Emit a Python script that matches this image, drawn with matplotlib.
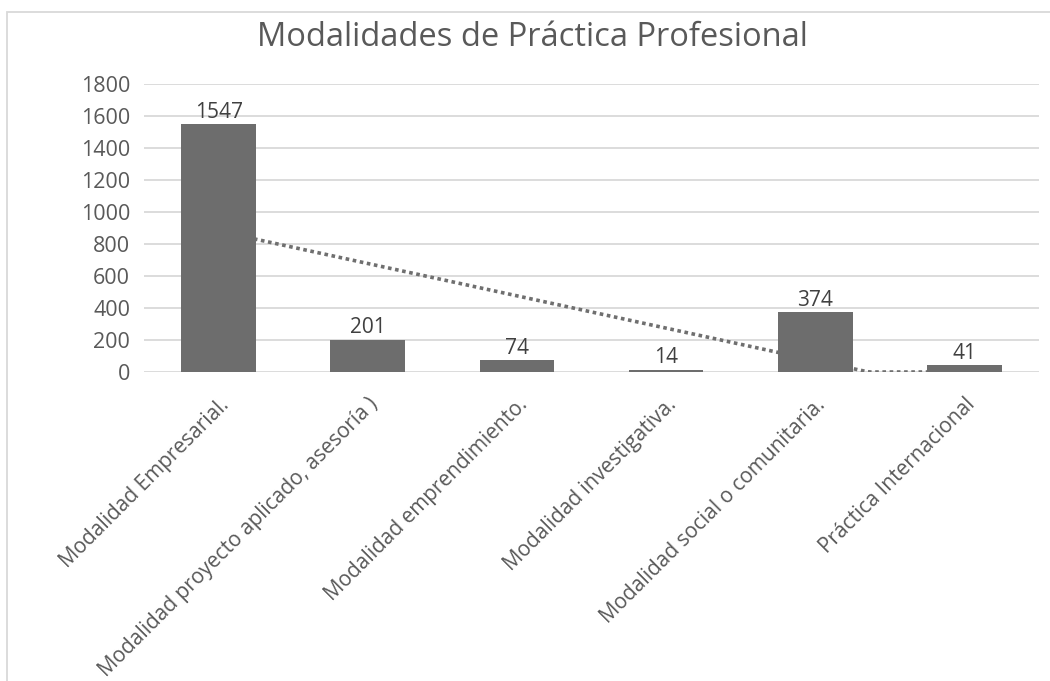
import numpy as np
import matplotlib
matplotlib.use("Agg")
import matplotlib.pyplot as plt
from matplotlib.patches import Rectangle

categories = ["Modalidad Empresarial.",
              "Modalidad proyecto aplicado, asesoría )",
              "Modalidad emprendimiento.",
              "Modalidad investigativa.",
              "Modalidad social o comunitaria.",
              "Práctica Internacional"]
values = [1547, 201, 74, 14, 374, 41]
yticks = [0, 200, 400, 600, 800, 1000, 1200, 1400, 1600, 1800]

plt.rcParams['font.family'] = ['Open Sans', 'DejaVu Sans']
text_col = '#595959'

fig = plt.figure(figsize=(10.5, 6.81), dpi=100)
ax = fig.add_axes([144/1050, 1 - 372/681, 895/1050, 288/681])

x = np.arange(len(values))
ax.bar(x, values, width=0.5, color='#6d6d6d', zorder=3)

# linear trendline (Excel style), drawn behind the bars
coef = np.polyfit(x, values, 1)
xs = np.linspace(0, len(values) - 1, 200)
trend = np.maximum(np.polyval(coef, xs), 0)
ax.plot(xs, trend, color='#6f6f6f', lw=2.6, linestyle=(0, (1, 1)), zorder=2,
        dash_capstyle='butt')

for xi, v in zip(x, values):
    ax.text(xi, v + 10, str(v), ha='center', va='bottom', fontsize=15,
            color='#404040', zorder=4)

ax.set_xlim(-0.5, len(values) - 0.5)
ax.set_ylim(0, 1800)
ax.set_yticks(yticks)
ax.set_yticklabels([str(t) for t in yticks], fontsize=15.5, color=text_col)
ax.set_xticks(x)
ax.set_xticklabels(categories, rotation=45, ha='right', rotation_mode='anchor',
                   fontsize=15, color=text_col)
ax.tick_params(axis='both', length=0)
ax.tick_params(axis='y', pad=10)
ax.tick_params(axis='x', pad=16)
ax.yaxis.grid(True, color='#d9d9d9', lw=1.3, zorder=0)
ax.set_axisbelow(True)
for s in ax.spines.values():
    s.set_visible(False)

fig.text(532/1050, 1 - 38/681, "Modalidades de Práctica Profesional",
         ha='center', va='center', fontsize=23.5, color=text_col)

fig.patches.append(Rectangle((7/1050, -0.1), 1.2, 1.1 - 12/681,
                             transform=fig.transFigure, fill=False,
                             edgecolor='#d9d9d9', lw=1.3))

fig.savefig("out.png", dpi=100)
